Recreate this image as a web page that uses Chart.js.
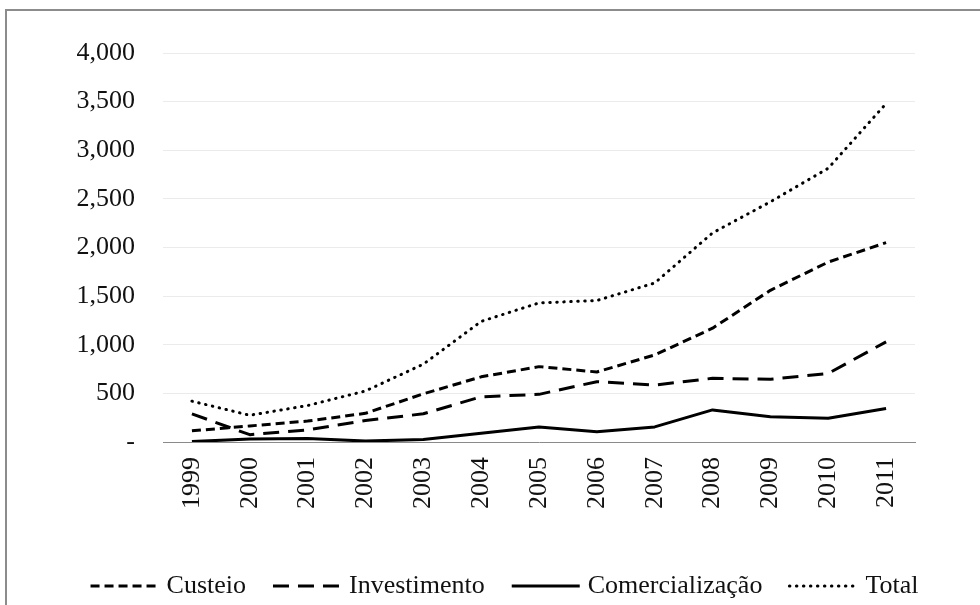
<!DOCTYPE html>
<html>
<head>
<meta charset="utf-8">
<script src="https://cdn.jsdelivr.net/npm/chart.js@4/dist/chart.umd.min.js"></script>
<style>
  html, body { margin: 0; padding: 0; background: #ffffff; }
  #wrap { position: relative; width: 980px; height: 605px; overflow: hidden; }
  #frame { position: absolute; left: 5px; top: 9px; width: 1100px; height: 800px;
           border: 2px solid #8c8c8c; box-sizing: border-box; }
  canvas { position: absolute; left: 0; top: 0; }
</style>
</head>
<body>
<div id="wrap">
  <div id="frame"></div>
  <canvas id="c" width="980" height="605"></canvas>
</div>
<script>
// Anos da série
const years = ['1999','2000','2001','2002','2003','2004','2005','2006','2007','2008','2009','2010','2011'];

// Valores por modalidade
const custeio         = [115, 165, 215, 295, 495, 670, 775, 720, 895, 1170, 1560, 1850, 2050];
const investimento    = [290,  75, 125, 220, 290, 465, 490, 620, 585,  655,  645,  705, 1030];
const comercializacao = [  5,  30,  35,  10,  25,  90, 155, 105, 155,  330,  260,  245,  345];
const total           = [420, 275, 375, 525, 800, 1240, 1430, 1455, 1635, 2150, 2470, 2815, 3480];

// Marcas do eixo vertical
const yTicks = [0, 500, 1000, 1500, 2000, 2500, 3000, 3500, 4000];

const FONT = 'Liberation Serif, Times New Roman, serif';
const PAD_BOTTOM = -4;
const SAMPLE_W = 68;   // comprimento da amostra de linha na legenda
const BOX_W = 63;      // largura reservada (o texto fica logo após a amostra)

const line = (label, data, dash, cap) => ({
  label, data,
  borderColor: '#000', backgroundColor: '#000',
  borderWidth: 3, borderDash: dash, borderCapStyle: cap || 'butt',
  borderJoinStyle: 'round',
  pointRadius: 0, pointHoverRadius: 0, tension: 0, fill: false
});

// Desenha as amostras tracejadas da legenda com o estilo de cada série
const legendSamples = {
  id: 'legendSamples',
  afterDraw(chart) {
    const lg = chart.legend;
    if (!lg || !lg.legendHitBoxes) return;
    const ctx = chart.ctx;
    lg.legendHitBoxes.forEach((box, i) => {
      const ds = chart.data.datasets[i];
      const y = box.top + box.height / 2;
      ctx.save();
      ctx.strokeStyle = ds.borderColor;
      ctx.lineWidth = ds.borderWidth;
      ctx.lineCap = ds.borderCapStyle || 'butt';
      ctx.setLineDash(ds.borderDash || []);
      ctx.beginPath();
      ctx.moveTo(box.left, y);
      ctx.lineTo(box.left + SAMPLE_W, y);
      ctx.stroke();
      ctx.restore();
    });
  }
};

new Chart(document.getElementById('c'), {
  type: 'line',
  data: {
    labels: years,
    datasets: [
      line('Custeio', custeio, [9, 5]),
      line('Investimento', investimento, [16, 9]),
      line('Comercialização', comercializacao, []),
      line('Total', total, [0.5, 6.5], 'round')
    ]
  },
  plugins: [legendSamples],
  options: {
    responsive: false,
    animation: false,
    events: [],
    layout: { padding: { left: 29, right: 0, top: 53, bottom: PAD_BOTTOM } },
    plugins: {
      tooltip: { enabled: false },
      legend: {
        position: 'bottom',
        labels: {
          boxWidth: BOX_W,
          boxHeight: 2,
          padding: 27,
          color: '#111',
          font: { family: FONT, size: 26, lineHeight: 1 },
          generateLabels: (chart) => chart.data.datasets.map((ds, i) => ({
            text: ds.label,
            fillStyle: 'rgba(0,0,0,0)',
            strokeStyle: 'rgba(0,0,0,0)',
            lineWidth: 0,
            fontColor: '#111',
            hidden: false,
            datasetIndex: i
          }))
        }
      }
    },
    scales: {
      x: {
        offset: true,
        grid: { display: false, drawTicks: false },
        border: { display: true, color: '#8a8a8a', width: 1 },
        ticks: {
          color: '#111', padding: 15, minRotation: 90, maxRotation: 90,
          autoSkip: false, font: { family: FONT, size: 26 }
        },
        afterFit: (s) => {
          const lg = s.chart.legend;
          s.height = s.chart.height - PAD_BOTTOM - (lg ? lg.height : 0) - 442;
        }
      },
      y: {
        min: 0, max: 4000,
        afterBuildTicks: (s) => { s.ticks = yTicks.map(v => ({ value: v })); },
        grid: { color: '#ebebeb', lineWidth: 1, drawTicks: false },
        border: { display: false },
        ticks: {
          color: '#111', padding: 28, font: { family: FONT, size: 26 },
          callback: (v) => v === 0 ? '-' : Number(v).toLocaleString('en-US')
        },
        afterFit: (s) => { s.width = 134; }
      },
      yR: {
        position: 'right',
        display: true,
        grid: { display: false, drawTicks: false },
        border: { display: false },
        ticks: { display: false },
        afterFit: (s) => { s.width = 65; }
      }
    }
  }
});
</script>
</body>
</html>
